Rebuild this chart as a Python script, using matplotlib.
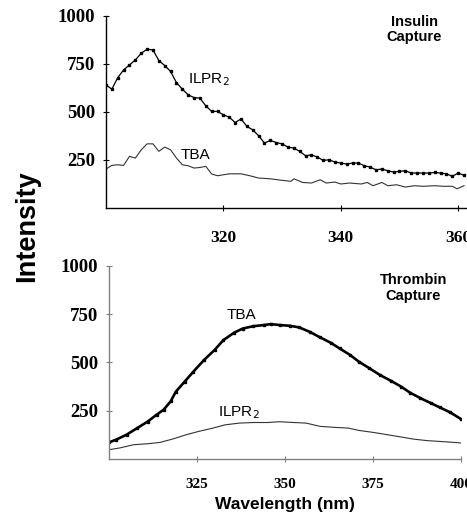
import numpy as np
import matplotlib
matplotlib.use("Agg")
import matplotlib.pyplot as plt

# insulin capture panel
ins_wl = np.arange(300, 362)
ins_ilpr = [641, 619, 679, 719, 745, 771, 806, 827, 823, 768,
            742, 711, 653, 619, 589, 575, 572, 532, 503, 503,
            485, 473, 445, 464, 425, 407, 376, 338, 352, 341,
            334, 317, 312, 295, 272, 277, 265, 248, 251, 239,
            234, 229, 234, 234, 220, 213, 199, 203, 194, 187,
            191, 194, 182, 182, 182, 182, 185, 182, 178, 165,
            182, 170]
ins_tba_wl = [300, 301, 302, 303, 304, 305, 306, 307, 308, 309,
              310, 311, 312, 313, 314, 315, 316, 317, 318, 319,
              320, 321, 323, 324.5, 326, 328, 330, 331.5, 332, 333.5,
              335, 336.5, 337.5, 339, 340, 341.5, 343.5, 344.5, 345.5, 347,
              348, 349.5, 351, 352.5, 354, 356, 357.5, 359, 359.8, 361]
ins_tba = [203, 222, 225, 222, 269, 260, 303, 334, 334, 295,
           317, 303, 260, 225, 220, 208, 211, 217, 177, 168,
           173, 178, 178, 168, 156, 152, 144, 139, 152, 133,
           130, 147, 130, 135, 125, 130, 125, 133, 116, 133,
           116, 121, 109, 116, 113, 116, 113, 113, 100, 116]

# thrombin capture panel
thr_tba_wl = [300, 302, 305, 308, 311, 313.5, 315.5, 317.5, 319, 321.5,
              324, 327, 330, 332.5, 335.5, 338, 341, 344, 346, 348.5,
              351.5, 354, 357, 360, 363, 365.5, 368.5, 371, 374, 377,
              380, 383, 385.5, 388.5, 391.5, 394, 397, 400]
thr_tba = [86, 100, 126, 160, 194, 229, 255, 298, 349, 401,
           453, 513, 565, 616, 654, 676, 688, 694, 699, 694,
           690, 682, 659, 630, 602, 573, 539, 504, 470, 435,
           406, 375, 344, 315, 289, 267, 241, 207]
thr_ilpr_wl = [300, 303, 307, 311, 314.5, 318, 322, 325.5, 329.5, 333,
               337, 341, 345, 348.5, 352.5, 356, 360, 364, 368, 371,
               375, 379, 383, 386.5, 390.5, 394, 398, 400]
thr_ilpr = [48, 57, 74, 79, 86, 103, 126, 143, 160, 177,
            186, 189, 189, 193, 189, 186, 169, 164, 160, 148,
            138, 126, 114, 103, 95, 91, 86, 83]

yticks = [250, 500, 750, 1000]

serif = "Liberation Serif"
sans = "Liberation Sans"

fig = plt.figure(figsize=(4.67, 5.17), dpi=100)
ax1 = fig.add_axes([0.227, 0.5977, 0.773, 0.3714])
ax2 = fig.add_axes([0.2334, 0.1122, 0.7537, 0.3733])


def style_axes(ax, color, xsize, xpad):
    for side in ["top", "right"]:
        ax.spines[side].set_visible(False)
    for side in ["left", "bottom"]:
        ax.spines[side].set_color(color)
        ax.spines[side].set_linewidth(1.0)
    ax.set_ylim(0, 1000)
    ax.set_yticks(yticks)
    ax.tick_params(axis="both", direction="inout", length=4, width=0.8, color=color)
    ax.tick_params(axis="y", pad=6)
    ax.tick_params(axis="x", pad=xpad)
    for lab in ax.get_yticklabels():
        lab.set_fontfamily(serif)
        lab.set_fontweight("bold")
        lab.set_fontsize(13.5)
    for lab in ax.get_xticklabels():
        lab.set_fontfamily(serif)
        lab.set_fontweight("bold")
        lab.set_fontsize(xsize)


# top panel
ax1.plot(ins_wl, ins_ilpr, color="black", lw=0.9, marker="s", markersize=1.7)
ax1.plot(ins_tba_wl, ins_tba, color="#333333", lw=0.8)
ax1.set_xlim(300, 361.5)
ax1.set_xticks([320, 340, 360])
style_axes(ax1, "black", 12.5, 14)
ax1.text(313.9, 667, "ILPR$_2$", family=sans, fontsize=11, va="center")
ax1.text(312.7, 276, "TBA", family=sans, fontsize=11, va="center")
ax1.text(0.854, 0.93, "Insulin\nCapture", transform=ax1.transAxes, family=sans,
         fontsize=10.5, fontweight="bold", ha="center", va="center", linespacing=1.1)

# bottom panel
ax2.plot(thr_tba_wl, thr_tba, color="black", lw=1.9, marker="s", markersize=1.8)
ax2.plot(thr_ilpr_wl, thr_ilpr, color="#333333", lw=0.8)
ax2.set_xlim(300, 400)
ax2.set_xticks([325, 350, 375, 400])
style_axes(ax2, "#808080", 11, 12)
ax2.set_xlabel("Wavelength (nm)", family=sans, fontsize=12.5, fontweight="bold", labelpad=4)
ax2.text(333.5, 746, "TBA", family=sans, fontsize=11, va="center")
ax2.text(331, 238, "ILPR$_2$", family=sans, fontsize=11, va="center")
ax2.text(0.864, 0.886, "Thrombin\nCapture", transform=ax2.transAxes, family=sans,
         fontsize=10.5, fontweight="bold", ha="center", va="center", linespacing=1.1)

fig.text(0.058, 0.563, "Intensity", family=sans, fontsize=19.5, fontweight="bold",
         rotation=90, ha="center", va="center")

fig.savefig("out.png", dpi=100)
